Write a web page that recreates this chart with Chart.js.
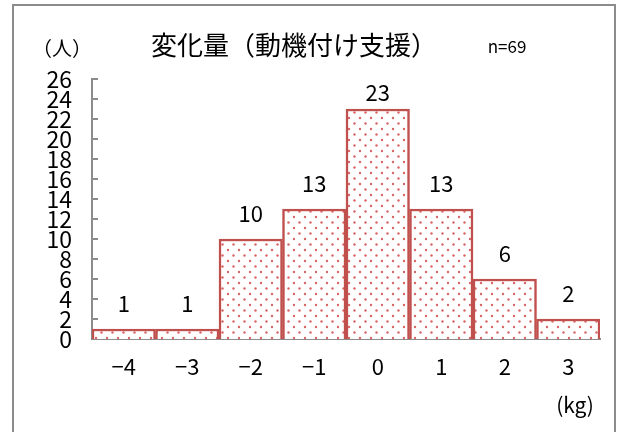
<!DOCTYPE html>
<html><head><meta charset="utf-8">
<script src="https://cdn.jsdelivr.net/npm/chart.js@4"></script>
<style>html,body{margin:0;padding:0;background:#fff}#wrap{width:620px;height:432px}</style>
</head><body><div id="wrap"><canvas id="c" width="620" height="432"></canvas></div>
<script>
const categories = ['−4','−3','−2','−1','0','1','2','3'];
const counts = [1,1,10,13,23,13,6,2];
const yMax = 26;
const yStep = 2;
const titleText = '変化量（動機付け支援）';
const nText = 'n=69';
const yUnit = '（人）';
const xUnit = '(kg)';

const FONT = '"Noto Sans CJK JP", "Noto Sans", sans-serif';
const RED = '#c0504d';

function makePattern(){
  const t = document.createElement('canvas');
  t.width = 11; t.height = 11;
  const g = t.getContext('2d');
  g.fillStyle = '#fff'; g.fillRect(0,0,11,11);
  g.fillStyle = '#d96565';
  g.beginPath(); g.arc(2.5,2.5,1.2,0,Math.PI*2); g.fill();
  g.beginPath(); g.arc(8,8,1.2,0,Math.PI*2); g.fill();
  return document.getElementById('c').getContext('2d').createPattern(t,'repeat');
}

const deco = {
  id:'deco',
  beforeDraw(chart){
    const ctx = chart.ctx;
    ctx.save();
    ctx.fillStyle='#fff'; ctx.fillRect(0,0,chart.width,chart.height);
    ctx.strokeStyle='#8c8c8c'; ctx.lineWidth=2;
    ctx.strokeRect(13,5,602,440);
    ctx.fillStyle='#000';
    ctx.textAlign='center'; ctx.textBaseline='middle';
    ctx.font='26px '+FONT; ctx.fillText(titleText,294,45);
    ctx.font='17px '+FONT; ctx.fillText(nText,507,47);
    ctx.font='20px '+FONT; ctx.fillText(yUnit,62,48);
    ctx.font='21px '+FONT; ctx.fillText(xUnit,575,405);
    ctx.restore();
  },
  beforeDatasetsDraw(chart){
    const ctx = chart.ctx, y = chart.scales.y, x0 = chart.chartArea.left;
    ctx.save(); ctx.strokeStyle='#8c8c8c'; ctx.lineWidth=2;
    y.ticks.forEach(t=>{
      const py = Math.round(y.getPixelForValue(t.value));
      ctx.beginPath(); ctx.moveTo(x0,py); ctx.lineTo(x0+6,py); ctx.stroke();
    });
    ctx.restore();
  },
  afterDatasetsDraw(chart){
    const ctx = chart.ctx, meta = chart.getDatasetMeta(0);
    ctx.save(); ctx.fillStyle='#000'; ctx.font='22px '+FONT;
    ctx.textAlign='center'; ctx.textBaseline='alphabetic';
    meta.data.forEach((bar,i)=>{
      const yb = Math.max(bar.y - 17, chart.chartArea.top + 22);
      ctx.fillText(String(counts[i]), bar.x, yb);
    });
    ctx.restore();
  }
};

new Chart(document.getElementById('c'), {
  type:'bar',
  data:{ labels:categories, datasets:[{ data:counts, backgroundColor:makePattern(), borderColor:RED, borderWidth:2.5,
    categoryPercentage:1, barPercentage:1 }]},
  options:{
    responsive:false, animation:false, devicePixelRatio:1,
    layout:{ padding:{ left:0, right:20, top:79, bottom:0 } },
    plugins:{ legend:{display:false}, tooltip:{enabled:false}, title:{display:false} },
    scales:{
      x:{ grid:{display:false, drawTicks:false}, border:{display:true,color:'#8c8c8c',width:2},
          ticks:{ color:'#000', font:{family:FONT,size:22}, padding:14 },
          afterFit(s){ s.height = 93; } },
      y:{ min:0, max:yMax, grid:{display:false, drawTicks:false}, border:{display:true,color:'#8c8c8c',width:2},
          ticks:{ stepSize:yStep, autoSkip:false, color:'#000', font:{family:FONT,size:23, lineHeight:1}, padding:20 },
          afterFit(s){ s.width = 92; } }
    }
  },
  plugins:[deco]
});
</script></body></html>
